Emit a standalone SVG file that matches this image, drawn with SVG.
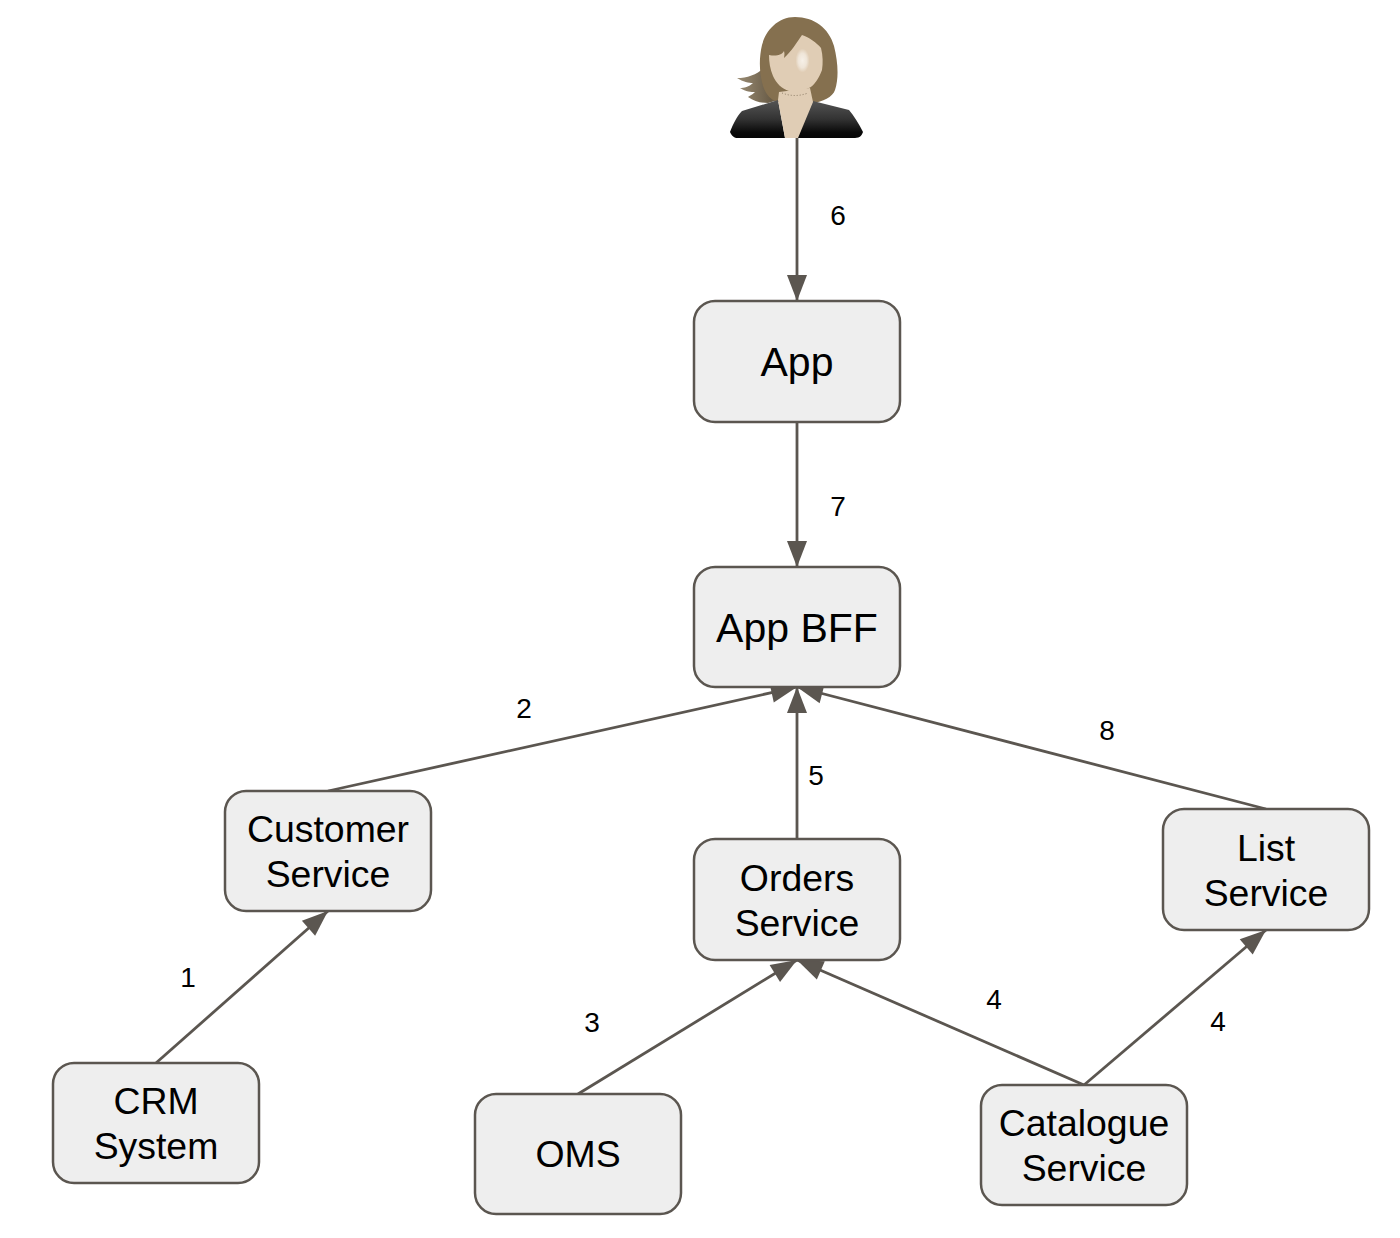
<svg xmlns="http://www.w3.org/2000/svg" width="1400" height="1238" viewBox="0 0 1400 1238">
<style>
.box{fill:#eeeeee;stroke:#5b5650;stroke-width:2.5}
.t{font-family:"Liberation Sans",Arial,sans-serif;fill:#000;text-anchor:middle}
.n{font-size:37.4px}
.big{font-size:41px}
.l{font-size:28px}
.c{stroke:#5b5650;stroke-width:2.8;fill:none;marker-end:url(#a)}
</style>
<defs>
<marker id="a" markerUnits="userSpaceOnUse" markerWidth="26" markerHeight="20" refX="26" refY="10" viewBox="0 0 26 20" orient="auto" overflow="visible"><path d="M0 0L26 10L0 20Z" fill="#5b5650"/></marker>
<linearGradient id="body" x1="0" y1="0" x2="0" y2="1"><stop offset="0" stop-color="#555"/><stop offset=".5" stop-color="#333"/><stop offset=".85" stop-color="#0a0a0a"/><stop offset="1" stop-color="#050505"/></linearGradient>
<linearGradient id="fly" x1="0" y1="0" x2="1" y2="0"><stop offset="0" stop-color="#9a8c74"/><stop offset=".7" stop-color="#6a5d48"/><stop offset="1" stop-color="#85704f"/></linearGradient>
<radialGradient id="shine"><stop offset="0" stop-color="#f6f0e8"/><stop offset=".6" stop-color="#efe5d8"/><stop offset="1" stop-color="#e0cdb5"/></radialGradient>
</defs>
<g id="connectors">
<line class="c" x1="797" y1="138" x2="797" y2="301"/>
<line class="c" x1="797" y1="422" x2="797" y2="567"/>
<line class="c" x1="328" y1="791" x2="797" y2="687"/>
<line class="c" x1="797" y1="839" x2="797" y2="687"/>
<line class="c" x1="1266" y1="809" x2="797" y2="687"/>
<line class="c" x1="156" y1="1063" x2="328" y2="911"/>
<line class="c" x1="578" y1="1094" x2="797" y2="960"/>
<line class="c" x1="1084" y1="1085" x2="797" y2="960"/>
<line class="c" x1="1084" y1="1085" x2="1266" y2="930"/>
</g>
<g id="labels">
<text class="t l" x="838" y="225">6</text>
<text class="t l" x="838" y="516">7</text>
<text class="t l" x="524" y="718">2</text>
<text class="t l" x="816" y="785">5</text>
<text class="t l" x="1107" y="740">8</text>
<text class="t l" x="188" y="987">1</text>
<text class="t l" x="592" y="1032">3</text>
<text class="t l" x="994" y="1009">4</text>
<text class="t l" x="1218" y="1031">4</text>
</g>
<g id="user">
<path fill="url(#fly)" d="M766 66C758 74 748 78 737 78C743 82 749 83 753 83C749 87 744 88 740 88C746 92 751 92 755 92C752 95 749 96 748 97C754 101 760 103 768 103L785 98Z"/>
<path fill="#85704f" d="M795 17C778 17 766 30 762 45C759 58 759 72 763 86C766 95 771 100 778 102L813 103C822 102 833 97 835 90C839 78 838 62 834 46C829 28 814 17 795 17Z"/>
<path fill="url(#body)" d="M778 100L742 111C737 116 733 124 730 132C732 136 734 138 738 138H855C860 138 862 135 863 132C859 124 854 116 849 110L813 101L796 138H785Z"/>
<path fill="#e0cdb5" d="M779 92L778 100L785 138H798L813 102L810 88Z"/>
<path fill="#e0cdb5" d="M769 55C775 56 781 56 784 51C785 54 784 57 784 58C791 52 797 42 802 35C809 37 817 43 821 48C823 56 823 63 822 70C819 78 814 86 809 88C802 91 795 92 789 91C782 89 776 83 773 76C770 69 769 62 769 55Z"/>
<ellipse cx="802.500" cy="60.500" rx="7" ry="12" fill="url(#shine)"/>
<path d="M782 93Q795 98 808 93" fill="none" stroke="#8a7a64" stroke-width="1" stroke-dasharray="1 2"/>
</g>
<g id="app"><rect class="box" x="694" y="301" width="206" height="121" rx="21"/><text class="t big" x="797" y="376">App</text></g>
<g id="app-bff"><rect class="box" x="694" y="567" width="206" height="120" rx="21"/><text class="t big" x="797" y="642">App BFF</text></g>
<g id="customer-service"><rect class="box" x="225" y="791" width="206" height="120" rx="21"/><text class="t n" x="328" y="842">Customer</text><text class="t n" x="328" y="887">Service</text></g>
<g id="orders-service"><rect class="box" x="694" y="839" width="206" height="121" rx="21"/><text class="t n" x="797" y="891">Orders</text><text class="t n" x="797" y="936">Service</text></g>
<g id="list-service"><rect class="box" x="1163" y="809" width="206" height="121" rx="21"/><text class="t n" x="1266" y="861">List</text><text class="t n" x="1266" y="906">Service</text></g>
<g id="crm-system"><rect class="box" x="53" y="1063" width="206" height="120" rx="21"/><text class="t n" x="156" y="1114">CRM</text><text class="t n" x="156" y="1159">System</text></g>
<g id="oms"><rect class="box" x="475" y="1094" width="206" height="120" rx="21"/><text class="t n" x="578" y="1167">OMS</text></g>
<g id="catalogue-service"><rect class="box" x="981" y="1085" width="206" height="120" rx="21"/><text class="t n" x="1084" y="1136">Catalogue</text><text class="t n" x="1084" y="1181">Service</text></g>
</svg>
